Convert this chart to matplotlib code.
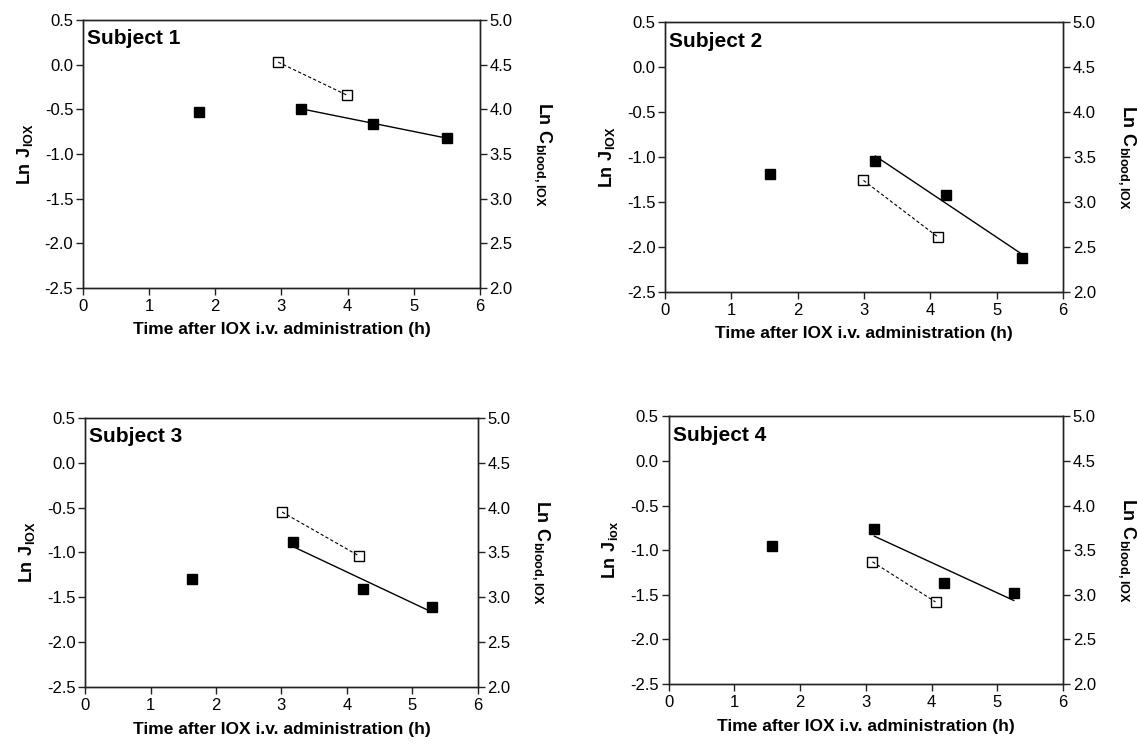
import matplotlib
matplotlib.use("Agg")
import matplotlib.pyplot as plt
import numpy as np

plt.rcParams['font.family'] = ['Liberation Sans', 'DejaVu Sans']
plt.rcParams['mathtext.fontset'] = 'custom'
plt.rcParams['mathtext.rm'] = 'Liberation Sans'
plt.rcParams['mathtext.bf'] = 'Liberation Sans:bold'

subjects = ['Subject 1', 'Subject 2', 'Subject 3', 'Subject 4']

# filled squares: Ln J (left axis)
t_j1 = [1.75, 3.29, 4.39, 5.50]
ln_j1 = [-0.53, -0.49, -0.66, -0.82]
t_j2 = [1.58, 3.17, 4.24, 5.38]
ln_j2 = [-1.19, -1.04, -1.42, -2.13]
t_j3 = [1.64, 3.17, 4.25, 5.30]
ln_j3 = [-1.30, -0.88, -1.41, -1.61]
t_j4 = [1.57, 3.13, 4.19, 5.25]
ln_j4 = [-0.95, -0.76, -1.37, -1.48]

# open squares: Ln C blood (right axis)
t_c1 = [2.95, 3.99]
ln_c1 = [4.53, 4.16]
t_c2 = [2.99, 4.11]
ln_c2 = [3.24, 2.61]
t_c3 = [3.01, 4.19]
ln_c3 = [3.95, 3.46]
t_c4 = [3.10, 4.06]
ln_c4 = [3.37, 2.92]

left_labels = [r'$\mathbf{Ln\ J_{IOX}}$'] * 3 + [r'$\mathbf{Ln\ J_{iox}}$']
right_label = r'$\mathbf{Ln\ C_{blood,IOX}}$'
x_label = 'Time after IOX i.v. administration (h)'
x_ticks = [0, 1, 2, 3, 4, 5, 6]
left_ticks = [-2.5, -2.0, -1.5, -1.0, -0.5, 0.0, 0.5]
right_ticks = [2.0, 2.5, 3.0, 3.5, 4.0, 4.5, 5.0]

all_tj = [t_j1, t_j2, t_j3, t_j4]
all_lj = [ln_j1, ln_j2, ln_j3, ln_j4]
all_tc = [t_c1, t_c2, t_c3, t_c4]
all_lc = [ln_c1, ln_c2, ln_c3, ln_c4]

positions = [[0.073, 0.614, 0.349, 0.359],
             [0.585, 0.609, 0.350, 0.361],
             [0.075, 0.079, 0.345, 0.361],
             [0.588, 0.083, 0.347, 0.359]]

fig = plt.figure(figsize=(11.37, 7.46), dpi=100)
spine_col = '#222222'

for i in range(4):
    ax = fig.add_axes(positions[i])
    ax2 = ax.twinx()
    tj = np.array(all_tj[i])
    lj = np.array(all_lj[i])

    # regression through the last three points
    k, b = np.polyfit(tj[1:], lj[1:], 1)
    xx = np.array([tj[1], tj[-1]])
    ax.plot(xx, k * xx + b, color='black', lw=1.0, zorder=2)
    ax.plot(tj, lj, 's', color='black', ms=7.5, zorder=3)

    ax2.plot(all_tc[i], all_lc[i], color='black', lw=0.8, ls=(0, (3, 2)),
             marker='s', ms=7.5, mfc='none', mec='black', mew=1.0)

    ax.set_xlim(0, 6)
    ax.set_ylim(-2.5, 0.5)
    ax2.set_ylim(2.0, 5.0)
    ax.set_xticks(x_ticks)
    ax.set_yticks(left_ticks)
    ax.set_yticklabels(['%.1f' % v for v in left_ticks])
    ax2.set_yticks(right_ticks)
    ax2.set_yticklabels(['%.1f' % v for v in right_ticks])

    for a in (ax, ax2):
        for s in a.spines.values():
            s.set_color(spine_col)
            s.set_linewidth(1.0)
        a.tick_params(direction='out', length=5, width=1.0, colors=spine_col,
                      labelcolor='black', labelsize=12, pad=2)
    ax.tick_params(axis='x', pad=3)

    ax.set_xlabel(x_label, fontsize=12.5, fontweight='bold', labelpad=6)
    ax.set_ylabel(left_labels[i], fontsize=13, labelpad=7)
    ax2.set_ylabel(right_label, fontsize=13, rotation=270, labelpad=30)
    ax.text(0.01, 0.93, subjects[i], transform=ax.transAxes, fontsize=15,
            fontweight='bold', va='center', ha='left')

fig.savefig('out.png', dpi=100)
